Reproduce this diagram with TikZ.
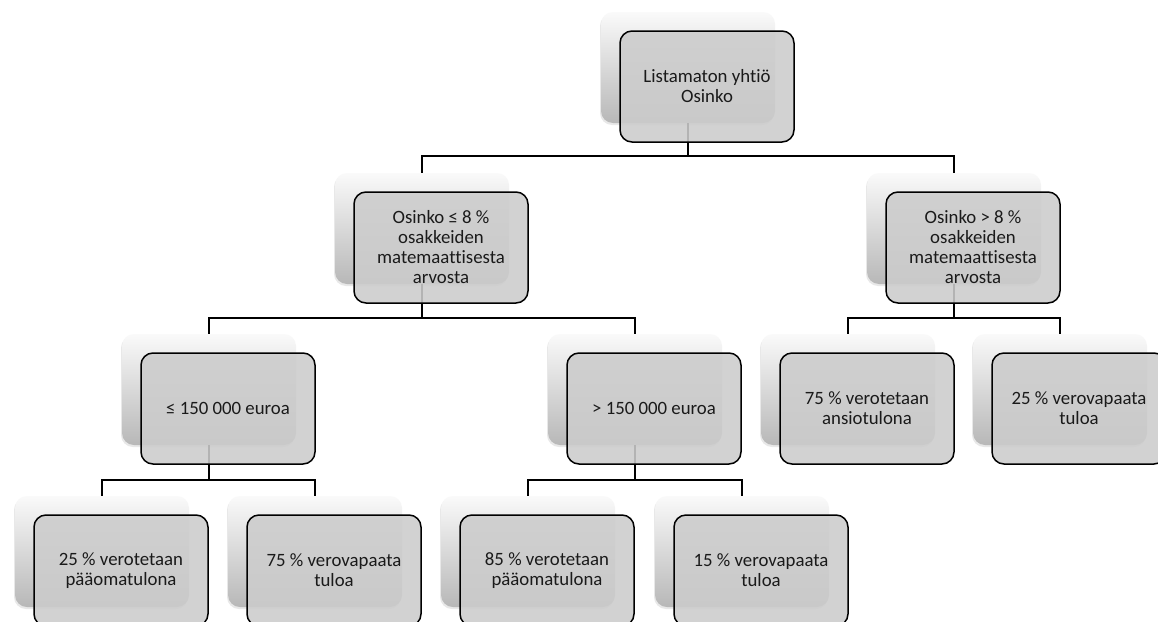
\documentclass[tikz,border=0pt]{standalone}
\usepackage{fontspec}
\setmainfont{Carlito}[Ligatures=NoCommon]
\usetikzlibrary{shadows}
\definecolor{frontgray}{HTML}{CCCCCC}
\definecolor{txt}{HTML}{1A1A1A}
\tikzset{
  backbox/.style={minimum width=174pt, minimum height=111pt, inner sep=0pt,
    rounded corners=12pt, top color=white!98!black, middle color=white!92!black,
    bottom color=white!72!black,
    drop shadow={opacity=0.18, shadow xshift=-1pt, shadow yshift=-2pt}},
  frontbox/.style={minimum width=174pt, minimum height=111pt, inner sep=0pt,
    rounded corners=12pt, draw=black, line width=1.5pt, fill=frontgray,
    fill opacity=0.88, text opacity=1, text=txt, align=center,
    font=\fontsize{18.8}{20}\selectfont},
  conn/.style={draw=black, line width=1.5pt}
}
\begin{document}
\begin{tikzpicture}[x=1pt,y=1pt]
\useasboundingbox (0,0) rectangle (1158,-621);
\clip (0,0) rectangle (1158,-621);
\fill[white] (0,0) rectangle (1158,-621);
% back boxes
\node[backbox] (rB)   at (688,-67.5) {};
\node[backbox] (aB)   at (422,-228.5) {};
\node[backbox] (bB)   at (954,-228.5) {};
\node[backbox] (a1B)  at (209,-389.5) {};
\node[backbox] (a2B)  at (635,-389.5) {};
\node[backbox] (b1B)  at (848,-389.5) {};
\node[backbox] (b2B)  at (1060,-389.5) {};
\node[backbox] (a11B) at (102,-551.5) {};
\node[backbox] (a12B) at (315,-551.5) {};
\node[backbox] (a21B) at (528,-551.5) {};
\node[backbox] (a22B) at (742,-551.5) {};
% connectors
\draw[conn] (rB.south) |- ([yshift=17pt]aB.north) -- (aB.north);
\draw[conn] (rB.south) |- ([yshift=17pt]bB.north) -- (bB.north);
\draw[conn] (aB.south) |- ([yshift=16pt]a1B.north) -- (a1B.north);
\draw[conn] (aB.south) |- ([yshift=16pt]a2B.north) -- (a2B.north);
\draw[conn] (bB.south) |- ([yshift=16pt]b1B.north) -- (b1B.north);
\draw[conn] (bB.south) |- ([yshift=16pt]b2B.north) -- (b2B.north);
\draw[conn] (a1B.south) |- ([yshift=16pt]a11B.north) -- (a11B.north);
\draw[conn] (a1B.south) |- ([yshift=16pt]a12B.north) -- (a12B.north);
\draw[conn] (a2B.south) |- ([yshift=16pt]a21B.north) -- (a21B.north);
\draw[conn] (a2B.south) |- ([yshift=16pt]a22B.north) -- (a22B.north);
% front boxes
\node[frontbox] (r)   at ([shift={(19pt,-19pt)}]rB.center)   {Listamaton yhtiö\\Osinko};
\node[frontbox] (a)   at ([shift={(19pt,-19pt)}]aB.center)   {Osinko ≤ 8 \%\\osakkeiden\\matemaattisesta\\arvosta};
\node[frontbox] (b)   at ([shift={(19pt,-19pt)}]bB.center)   {Osinko > 8 \%\\osakkeiden\\matemaattisesta\\arvosta};
\node[frontbox] (a1)  at ([shift={(19pt,-19pt)}]a1B.center)  {≤ 150 000 euroa};
\node[frontbox] (a2)  at ([shift={(19pt,-19pt)}]a2B.center)  {> 150 000 euroa};
\node[frontbox] (b1)  at ([shift={(19pt,-19pt)}]b1B.center)  {75 \% verotetaan\\ansiotulona};
\node[frontbox] (b2)  at ([shift={(19pt,-19pt)}]b2B.center)  {25 \% verovapaata\\tuloa};
\node[frontbox] (a11) at ([shift={(19pt,-19pt)}]a11B.center) {25 \% verotetaan\\pääomatulona};
\node[frontbox] (a12) at ([shift={(19pt,-19pt)}]a12B.center) {75 \% verovapaata\\tuloa};
\node[frontbox] (a21) at ([shift={(19pt,-19pt)}]a21B.center) {85 \% verotetaan\\pääomatulona};
\node[frontbox] (a22) at ([shift={(19pt,-19pt)}]a22B.center) {15 \% verovapaata\\tuloa};
\end{tikzpicture}
\end{document}
